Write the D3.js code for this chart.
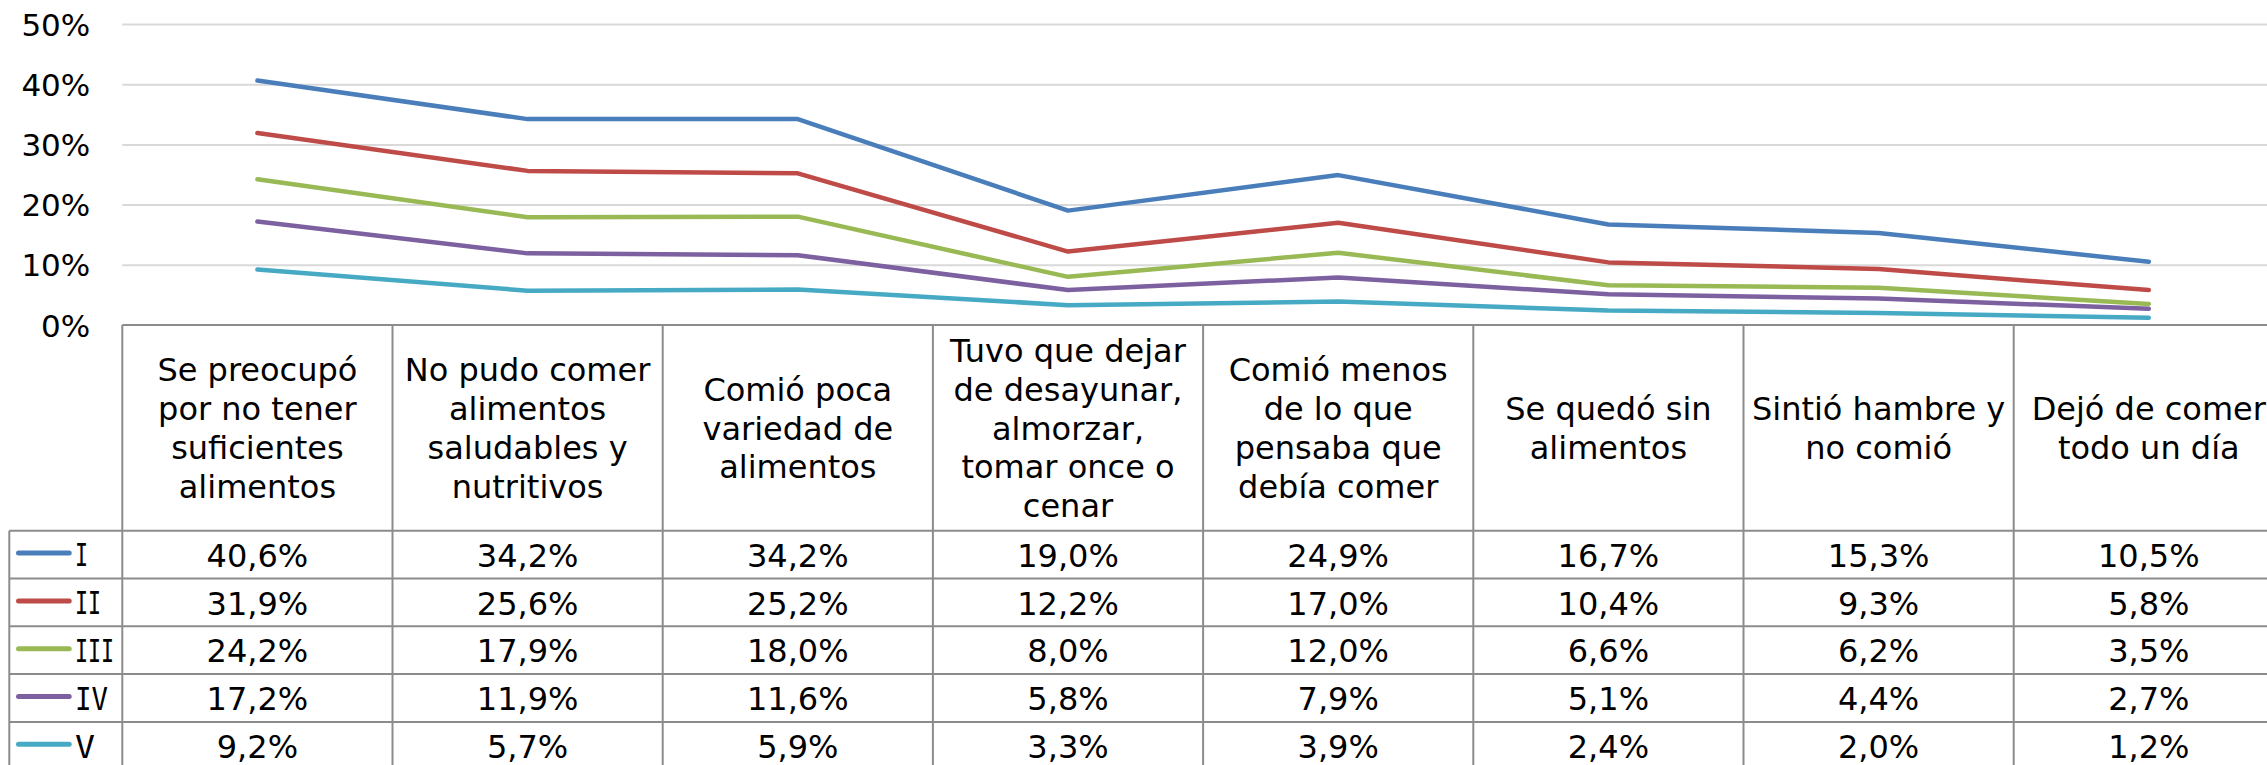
<!DOCTYPE html>
<html>
<head>
<meta charset="utf-8">
<script src="https://cdn.jsdelivr.net/npm/d3@7"></script>
<style>
  html, body { margin: 0; padding: 0; background: #fff; overflow: hidden; }
  text { font-family: Verdana, "DejaVu Sans", sans-serif; fill: #000; }
</style>
</head>
<body>
<div id="chart"></div>
<script>
const width = 2267, height = 765;

// category labels, one entry per line as they are broken in the table header
const categories = [
  ["Se preocupó", "por no tener", "suficientes", "alimentos"],
  ["No pudo comer", "alimentos", "saludables y", "nutritivos"],
  ["Comió poca", "variedad de", "alimentos"],
  ["Tuvo que dejar", "de desayunar,", "almorzar,", "tomar once o", "cenar"],
  ["Comió menos", "de lo que", "pensaba que", "debía comer"],
  ["Se quedó sin", "alimentos"],
  ["Sintió hambre y", "no comió"],
  ["Dejó de comer", "todo un día"]
];

const seriesNames = ["I", "II", "III", "IV", "V"];
const colors = ["#4A7EBB", "#BE4B48", "#98B954", "#7D60A0", "#46AAC5"];

const valuesI   = [0.406, 0.342, 0.342, 0.190, 0.249, 0.167, 0.153, 0.105];
const valuesII  = [0.319, 0.256, 0.252, 0.122, 0.170, 0.104, 0.093, 0.058];
const valuesIII = [0.242, 0.179, 0.180, 0.080, 0.120, 0.066, 0.062, 0.035];
const valuesIV  = [0.172, 0.119, 0.116, 0.058, 0.079, 0.051, 0.044, 0.027];
const valuesV   = [0.092, 0.057, 0.059, 0.033, 0.039, 0.024, 0.020, 0.012];

const yTicks = [0, 0.1, 0.2, 0.3, 0.4, 0.5];

const series = seriesNames.map((name, i) => ({
  name: name,
  color: colors[i],
  values: [valuesI, valuesII, valuesIII, valuesIV, valuesV][i]
}));

const plotLeft = 122.3, plotRight = 2283.9, plotTop = 24, plotBottom = 325;
const tableLeft = 9.3, headerBottom = 530.7, rowH = 47.8;
const borderColor = "#8c8c8c";

const es = d3.formatLocale({decimal: ",", thousands: ".", grouping: [3], currency: ["", " €"]});
const pct1 = es.format(".1%");
const pct0 = es.format(".0%");

const x = d3.scaleBand()
  .domain(d3.range(categories.length))
  .range([plotLeft, plotRight]);

const y = d3.scaleLinear()
  .domain([0, 0.5])
  .range([plotBottom, plotTop]);

const rowY = d3.scaleBand()
  .domain(seriesNames)
  .range([headerBottom, headerBottom + rowH * seriesNames.length]);

const svg = d3.select("#chart")
  .append("svg")
  .attr("width", width)
  .attr("height", height);

// gridlines
svg.append("g")
  .attr("transform", `translate(${plotLeft},0)`)
  .call(d3.axisLeft(y).tickValues(yTicks.slice(1)).tickSize(-(plotRight - plotLeft)).tickFormat(""))
  .call(g => g.select(".domain").remove())
  .call(g => g.selectAll("line").attr("stroke", "#d9d9d9").attr("stroke-width", 2));

// y labels
svg.append("g")
  .attr("transform", `translate(${plotLeft},0)`)
  .call(d3.axisLeft(y).tickValues(yTicks).tickSize(0).tickPadding(32).tickFormat(pct0))
  .call(g => g.select(".domain").remove())
  .call(g => g.selectAll("text")
    .attr("font-family", null)
    .attr("font-size", 31)
    .attr("dy", "0.36em"));

// lines
const line = d3.line()
  .x((d, i) => x(i) + x.bandwidth() / 2)
  .y(d => y(d));

svg.append("g")
  .selectAll("path")
  .data(series)
  .join("path")
    .attr("d", d => line(d.values))
    .attr("fill", "none")
    .attr("stroke", d => d.color)
    .attr("stroke-width", 4.5)
    .attr("stroke-linecap", "round")
    .attr("stroke-linejoin", "round");

// data table
const table = svg.append("g");
const tableBottom = headerBottom + rowH * seriesNames.length;

// horizontal borders
table.append("line")
  .attr("x1", plotLeft).attr("x2", plotRight)
  .attr("y1", plotBottom).attr("y2", plotBottom);
table.selectAll("line.row")
  .data(d3.range(seriesNames.length + 1))
  .join("line")
    .attr("class", "row")
    .attr("x1", tableLeft).attr("x2", plotRight)
    .attr("y1", d => headerBottom + d * rowH)
    .attr("y2", d => headerBottom + d * rowH);

// vertical borders
table.selectAll("line.col")
  .data(d3.range(categories.length + 1))
  .join("line")
    .attr("class", "col")
    .attr("x1", d => plotLeft + d * x.bandwidth())
    .attr("x2", d => plotLeft + d * x.bandwidth())
    .attr("y1", plotBottom).attr("y2", tableBottom);
table.append("line")
  .attr("x1", tableLeft).attr("x2", tableLeft)
  .attr("y1", headerBottom).attr("y2", tableBottom);

table.selectAll("line")
  .attr("stroke", borderColor)
  .attr("stroke-width", 2);

// header labels
const headerMid = (plotBottom + headerBottom) / 2;
const lineH = 38.9, fontSize = 32, capHalf = 11.7;

table.selectAll("text.head")
  .data(categories)
  .join("text")
    .attr("class", "head")
    .attr("text-anchor", "middle")
    .attr("font-size", fontSize)
    .each(function(lines, i) {
      const first = headerMid + capHalf - (lines.length - 1) * lineH / 2;
      d3.select(this).selectAll("tspan")
        .data(lines)
        .join("tspan")
          .attr("x", x(i) + x.bandwidth() / 2)
          .attr("y", (d, j) => first + j * lineH)
          .text(d => d);
    });

// rows: legend key + values
const rows = table.selectAll("g.rowg")
  .data(series)
  .join("g")
    .attr("class", "rowg")
    .attr("transform", d => `translate(0,${rowY(d.name) + rowY.bandwidth() / 2})`);

rows.append("line")
  .attr("x1", 18.5).attr("x2", 69.2)
  .attr("y1", -1.5).attr("y2", -1.5)
  .attr("stroke", d => d.color)
  .attr("stroke-width", 5)
  .attr("stroke-linecap", "round");

// roman numerals: the serifed I of the original, squeezed to its width
const glyphW = {I: 13, V: 20};
rows.append("text")
  .attr("x", 75)
  .attr("y", capHalf)
  .attr("font-size", fontSize)
  .style("font-family", "'DejaVu Sans Mono', monospace")
  .attr("textLength", d => d3.sum(d.name.split(""), c => glyphW[c]))
  .attr("lengthAdjust", "spacingAndGlyphs")
  .text(d => d.name);

rows.selectAll("text.val")
  .data(d => d.values)
  .join("text")
    .attr("class", "val")
    .attr("x", (d, i) => x(i) + x.bandwidth() / 2)
    .attr("y", capHalf + 0.5)
    .attr("text-anchor", "middle")
    .attr("font-size", fontSize)
    .text(d => pct1(d));
</script>
</body>
</html>
